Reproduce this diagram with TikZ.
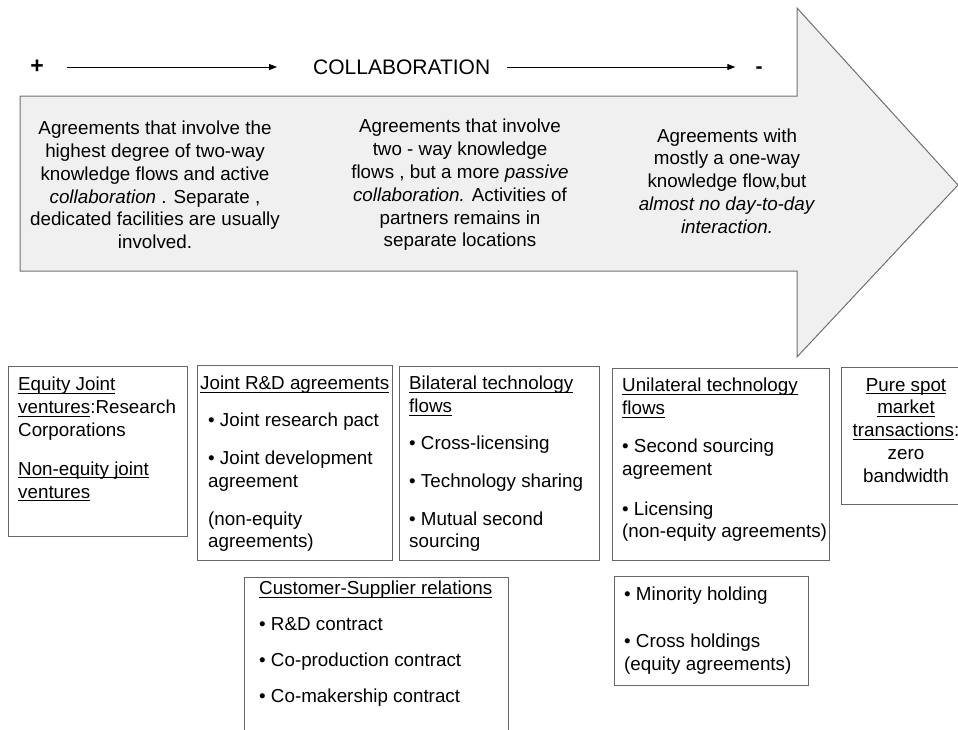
\documentclass[tikz,border=0pt]{standalone}
\usepackage{fontspec}
\setmainfont{Liberation Sans}
\usetikzlibrary{arrows.meta}
\definecolor{arrowfill}{HTML}{F0F0F0}
\definecolor{arrowedge}{HTML}{707070}
\definecolor{boxedge}{HTML}{666666}
\newsavebox{\ulbox}
\newcommand{\myul}[1]{\sbox{\ulbox}{#1}\rlap{\rule[-3pt]{\wd\ulbox}{1pt}}\usebox{\ulbox}}
\begin{document}
\begin{tikzpicture}[x=1pt,y=-1pt,
  every node/.style={inner sep=0pt, font=\fontsize{18.8}{22.8}\selectfont},
  box/.style={draw=boxedge, line width=1pt, anchor=north west},
  boxtext/.style={anchor=north west, align=left},
  blocktext/.style={align=center},
  harrow/.style={-{Triangle[length=8pt,width=6pt]}, line width=1pt}]
\path[use as bounding box, clip] (0,0) rectangle (958,729);

% big arrow
\draw[draw=arrowedge, fill=arrowfill, line width=1pt]
  (20,96) -- (797,96) -- (797,8) -- (958,185) -- (797,357) -- (797,271) -- (20,271) -- cycle;

% header
\node[font=\fontsize{23}{26}\selectfont\bfseries] (plus) at (37,67) {+};
\node[font=\fontsize{21}{25}\selectfont, anchor=west] (collab) at (313,67) {COLLABORATION};
\node[font=\fontsize{21}{25}\selectfont\bfseries] (minus) at (759,70) {-};
\draw[harrow, shorten <=23pt, shorten >=36pt] (plus.east) -- (plus.east -| collab.west);
\draw[harrow, shorten <=17pt, shorten >=20pt] (collab.east) -- (collab.east -| minus.west);

% arrow texts
\node[blocktext] (t1) at (155,185) {Agreements that involve the\\highest degree of two-way\\knowledge flows and active\\\textit{collaboration} . Separate ,\\dedicated facilities are usually\\involved.};
\node[blocktext] (t2) at (460,185) {Agreements that involve\\two - way knowledge\\flows , but a more \textit{passive}\\\textit{collaboration.} Activities of\\partners remains in\\separate locations};
\node[blocktext] (t3) at (727,181) {Agreements with\\mostly a one-way\\knowledge flow,but\\\textit{almost no day-to-day}\\\textit{interaction.}};

% boxes
\node[box, minimum width=179pt, minimum height=170pt] (b1) at (8,366) {};
\node[box, minimum width=195pt, minimum height=195pt] (b2) at (197,365) {};
\node[box, minimum width=200pt, minimum height=194pt] (b3) at (399,366) {};
\node[box, minimum width=217pt, minimum height=192pt] (b4) at (612,368) {};
\node[box, minimum width=130pt, minimum height=137pt] (b5) at (841,367) {};
\node[box, minimum width=264pt, minimum height=175pt] (b6) at (244,577) {};
\node[box, minimum width=194pt, minimum height=109pt] (b7) at (614,576) {};

\node[boxtext] (x1) at (18,377) {\myul{Equity Joint}\\\myul{ventures}:Research\\Corporations\\[16pt]\myul{Non-equity joint}\\\myul{ventures}};
\node[boxtext] (x2) at (208,376) {\hspace*{-8pt}\myul{Joint R\&D agreements}\\[14pt]• Joint research pact\\[15pt]• Joint development\\agreement\\[15pt](non-equity\\agreements)};
\node[boxtext] (x3) at (409,376) {\myul{Bilateral technology}\\\myul{flows}\\[14pt]• Cross-licensing\\[15pt]• Technology sharing\\[15pt]• Mutual second\\sourcing};
\node[boxtext] (x4) at (622,378) {\myul{Unilateral technology}\\\myul{flows}\\[15pt]• Second sourcing\\agreement\\[17pt]• Licensing\\(non-equity agreements)};
\node[anchor=north, align=center] (x5) at (906,378) {\myul{Pure spot}\\\myul{market}\\\myul{transactions}:\\zero\\bandwidth};
\node[boxtext] (x6) at (259,581) {\myul{Customer-Supplier relations}\\[13pt]• R\&D contract\\[13pt]• Co-production contract\\[13pt]• Co-makership contract};
\node[boxtext] (x7) at (624,587) {• Minority holding\\[24pt]• Cross holdings\\(equity agreements)};
\end{tikzpicture}
\end{document}
